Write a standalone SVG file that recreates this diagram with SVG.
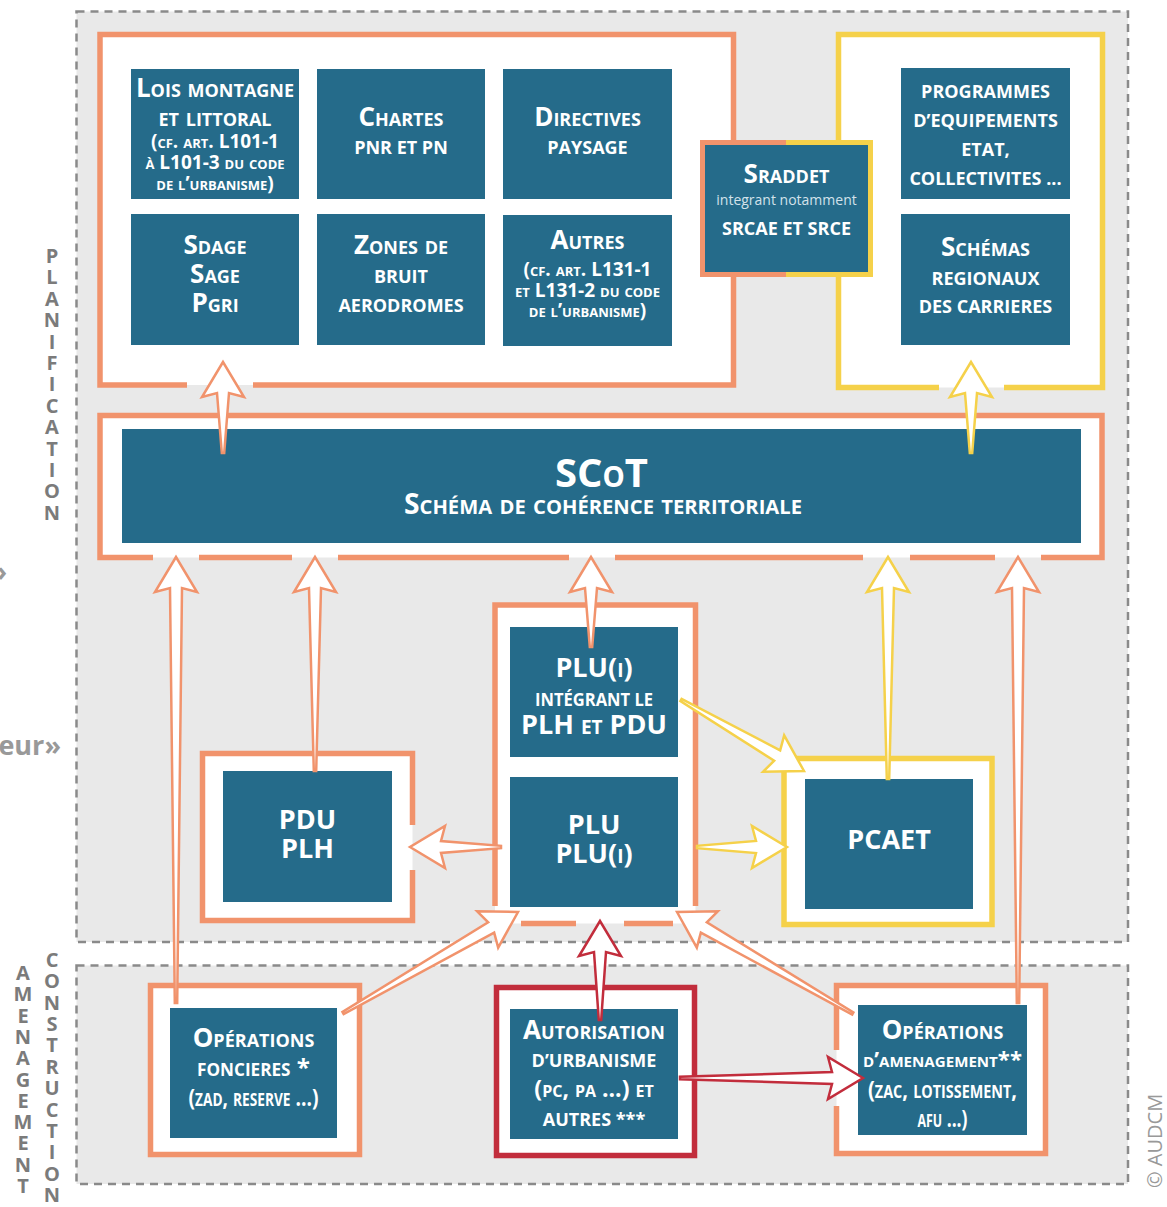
<svg xmlns="http://www.w3.org/2000/svg" width="1167" height="1207" viewBox="0 0 1167 1207">
<defs>
<style>
.zone{fill:#e9e9e9;stroke:#8a8a8a;stroke-width:2.5;stroke-dasharray:8 6}
.fo{fill:#fff;stroke:#f1936c;stroke-width:5.5}
.fy{fill:#fff;stroke:#f5d14a;stroke-width:5.5}
.fr{fill:#fff;stroke:#c22d3c;stroke-width:5.5}
.lo{fill:none;stroke:#f1936c;stroke-width:5.5}
.ly{fill:none;stroke:#f5d14a;stroke-width:5.5}
.box{fill:#256b8a}
.t{font-family:"Open Sans","Noto Sans","DejaVu Sans",sans-serif;font-weight:700;fill:#fff;text-anchor:middle}
.sc{font-variant:small-caps}
.big{font-size:26px}
.sm{font-size:18px}
.ref{font-size:19px}
.lbl{font-family:"Open Sans","DejaVu Sans",sans-serif;font-weight:700;font-size:20px;fill:#7b7b7b;text-anchor:middle}
.ao{fill:#fff;stroke:#f1936c;stroke-width:2.5;stroke-linejoin:miter}
.ay{fill:#fff;stroke:#f5d14a;stroke-width:2.5;stroke-linejoin:miter}
.ar{fill:#fff;stroke:#c22d3c;stroke-width:2.5;stroke-linejoin:miter}
</style>
</defs>
<rect width="1167" height="1207" fill="#fff"/>
<g id="zones">
<rect class="zone" x="76.5" y="11.5" width="1051.5" height="930.5"/>
<rect class="zone" x="76.5" y="965.5" width="1051.5" height="218.5"/>
</g>
<g id="side-labels">
<text class="lbl" x="52 52 52 52 52 52 52 52 52 52 52 52 52" y="263 284.4 305.8 327.2 348.6 370 391.4 412.8 434.2 455.6 477 498.4 519.8">PLANIFICATION</text>
<text class="lbl" x="23 23 23 23 23 23 23 23 23 23 23" y="980 1001.3 1022.6 1043.9 1065.2 1086.5 1107.8 1129.1 1150.4 1171.7 1193">AMENAGEMENT</text>
<text class="lbl" x="52 52 52 52 52 52 52 52 52 52 52 52" y="967 988.4 1009.7 1031.1 1052.4 1073.8 1095.2 1116.5 1137.9 1159.2 1180.6 1202">CONSTRUCTION</text>
<text x="7" y="581" font-family="Open Sans, sans-serif" font-weight="700" font-size="27" fill="#999" text-anchor="end">»</text>
<text x="61" y="755" font-family="Open Sans, sans-serif" font-weight="700" font-size="27" fill="#999" text-anchor="end">eur»</text>
<text x="1162" y="1188" transform="rotate(-90 1162 1188)" font-family="Open Sans, sans-serif" font-size="20" fill="#999">© AUDCM</text>
</g>

<g id="group-top-left">
<path d="M100 385 V34.5 H733.5 V385 Z" fill="#fff"/>
<path class="lo" d="M187 385 H100 V34.5 H733.5 V385 H253"/>
</g>
<g id="group-top-right">
<path d="M838.5 387.5 V34.5 H1102.5 V387.5 Z" fill="#fff"/>
<path class="ly" d="M939 387.5 H838.5 V34.5 H1102.5 V387.5 H1004"/>
</g>

<g id="lois">
<rect class="box" x="131" y="69" width="168" height="130"/>
<text class="t sc big" x="215" y="97">Lois montagne</text>
<text class="t sc big" x="215" y="126">et littoral</text>
<text class="t sc ref" x="215" y="148">(cf. art. L101-1</text>
<text class="t sc ref" x="215" y="169">à L101-3 du code</text>
<text class="t sc ref" x="215" y="190">de l’urbanisme)</text>
</g>
<g id="chartes">
<rect class="box" x="317" y="69" width="168" height="130"/>
<text class="t sc big" x="401" y="126">Chartes</text>
<text class="t sm" x="401" y="154">PNR ET PN</text>
</g>
<g id="directives">
<rect class="box" x="503" y="69" width="169" height="130"/>
<text class="t sc big" x="587.5" y="126">Directives</text>
<text class="t sm" x="587.5" y="154">PAYSAGE</text>
</g>
<g id="sdage">
<rect class="box" x="131" y="214" width="168" height="131"/>
<text class="t sc big" x="215" y="254">Sdage</text>
<text class="t sc big" x="215" y="283">Sage</text>
<text class="t sc big" x="215" y="312">Pgri</text>
</g>
<g id="zones-bruit">
<rect class="box" x="317" y="214" width="168" height="131"/>
<text class="t sc big" x="401" y="254">Zones de</text>
<text class="t sm" x="401" y="283">BRUIT</text>
<text class="t sm" x="401" y="312">AERODROMES</text>
</g>
<g id="autres">
<rect class="box" x="503" y="215" width="169" height="131"/>
<text class="t sc big" x="587.5" y="249">Autres</text>
<text class="t sc ref" x="587.5" y="276">(cf. art. L131-1</text>
<text class="t sc ref" x="587.5" y="297">et L131-2 du code</text>
<text class="t sc ref" x="587.5" y="317">de l’urbanisme)</text>
</g>
<g id="sraddet">
<rect x="700" y="140" width="87" height="137" fill="#f1936c"/>
<rect x="786" y="140" width="87" height="137" fill="#f5d14a"/>
<rect class="box" x="705" y="145" width="163" height="127"/>
<text class="t sc big" x="786.5" y="183">Sraddet</text>
<text x="786.5" y="205" font-family="Open Sans, sans-serif" font-size="14" fill="#d3e2ea" text-anchor="middle">integrant notamment</text>
<text class="t sm" x="786.5" y="235">SRCAE ET SRCE</text>
</g>
<g id="programmes">
<rect class="box" x="901" y="68" width="169" height="131"/>
<text class="t sm" x="985.5" y="98">PROGRAMMES</text>
<text class="t sm" x="985.5" y="127">D’EQUIPEMENTS</text>
<text class="t sm" x="985.5" y="156">ETAT,</text>
<text class="t sm" x="985.5" y="185">COLLECTIVITES ...</text>
</g>
<g id="schemas">
<rect class="box" x="901" y="214" width="169" height="131"/>
<text class="t sc big" x="985.5" y="256">Schémas</text>
<text class="t sm" x="985.5" y="285">REGIONAUX</text>
<text class="t sm" x="985.5" y="313">DES CARRIERES</text>
</g>

<g id="scot">
<rect x="100" y="415.5" width="1002" height="142" fill="#fff"/>
<path class="lo" d="M153 557.5 H100 V415.5 H1102 V557.5 H1041 M199 557.5 H292 M338 557.5 H569 M615 557.5 H863 M910 557.5 H995"/>
<rect class="box" x="122" y="429" width="959" height="114"/>
<text class="t sc" x="601.5" y="487" font-size="40">SCoT</text>
<text class="t sc" x="603" y="514" font-size="28" textLength="398" lengthAdjust="spacingAndGlyphs">Schéma de cohérence territoriale</text>
</g>

<g id="pdu">
<rect x="202.5" y="753.5" width="210" height="167" fill="#fff"/>
<path class="lo" d="M412.5 825 V753.5 H202.5 V920.5 H412.5 V870"/>
<rect class="box" x="223" y="771" width="169" height="131"/>
<text class="t" x="307.5" y="829" font-size="27">PDU</text>
<text class="t" x="307.5" y="858" font-size="27">PLH</text>
</g>

<g id="plu">
<rect x="495" y="605" width="200.5" height="318.5" fill="#fff"/>
<path class="lo" d="M495 906 V605 H695.5 V906 M521 923.5 H576 M624 923.5 H673"/>
<rect class="box" x="510" y="627" width="168" height="130"/>
<text class="t sc" x="594" y="677" font-size="27">PLU(i)</text>
<text class="t" x="594" y="706" font-size="17" textLength="118" lengthAdjust="spacingAndGlyphs">INTÉGRANT LE</text>
<text class="t sc" x="594" y="734" font-size="27">PLH et PDU</text>
<rect class="box" x="510" y="777" width="168" height="130"/>
<text class="t" x="594" y="834" font-size="27">PLU</text>
<text class="t sc" x="594" y="863" font-size="27">PLU(i)</text>
</g>

<g id="pcaet">
<rect class="fy" x="784" y="758.5" width="208" height="166"/>
<rect class="box" x="805" y="779" width="168" height="130"/>
<text class="t" x="889" y="849" font-size="27">PCAET</text>
</g>

<g id="operations-foncieres">
<rect class="fo" x="150.5" y="985.5" width="209" height="169"/>
<rect class="box" x="170" y="1008" width="167" height="130"/>
<text class="t sc big" x="253.5" y="1047">Opérations</text>
<text class="t sc" x="253.5" y="1076" font-size="24" textLength="113" lengthAdjust="spacingAndGlyphs">foncieres *</text>
<text class="t sc" x="253.5" y="1106" font-size="24" textLength="130" lengthAdjust="spacingAndGlyphs">(zad, reserve ...)</text>
</g>

<g id="autorisation">
<rect class="fr" x="496.5" y="987.5" width="198" height="168"/>
<rect class="box" x="510" y="1009" width="168" height="130"/>
<text class="t sc big" x="594" y="1039">Autorisation</text>
<text class="t sm" x="594" y="1067">D’URBANISME</text>
<text class="t sc" x="594" y="1097" font-size="23">(pc, pa ...) et</text>
<text class="t sm" x="594" y="1126">AUTRES ***</text>
</g>

<g id="operations-amenagement">
<rect x="836.5" y="985.5" width="209" height="168" fill="#fff"/>
<path class="lo" d="M836.5 1050 V985.5 H1045.5 V1153.5 H836.5 V1106"/>
<rect class="box" x="858" y="1005" width="169" height="130"/>
<text class="t sc big" x="942.5" y="1039">Opérations</text>
<text class="t sc" x="942.5" y="1067" font-size="22" textLength="159" lengthAdjust="spacingAndGlyphs">d’amenagement**</text>
<text class="t sc" x="942.5" y="1098" font-size="24" textLength="149" lengthAdjust="spacingAndGlyphs">(zac, lotissement,</text>
<text class="t sc" x="942.5" y="1127" font-size="24" textLength="50" lengthAdjust="spacingAndGlyphs">afu ...)</text>
</g>

<g id="connectors">
<path class="ao" transform="translate(223 362) rotate(-90)" d="M0 0 L-35 -21 L-31 -6 L-91 -1.2 L-91 1.2 L-31 6 L-35 21 Z"/>
<path class="ay" transform="translate(971 362) rotate(-90)" d="M0 0 L-35 -21 L-31 -6 L-91 -1.2 L-91 1.2 L-31 6 L-35 21 Z"/>
<path class="ao" transform="translate(176 557) rotate(-90)" d="M0 0 L-35 -21 L-31 -6 L-446 -1.2 L-446 1.2 L-31 6 L-35 21 Z"/>
<path class="ao" transform="translate(315 557) rotate(-90)" d="M0 0 L-35 -21 L-31 -6 L-214 -1.2 L-214 1.2 L-31 6 L-35 21 Z"/>
<path class="ao" transform="translate(591 557) rotate(-90)" d="M0 0 L-35 -21 L-31 -6 L-90 -1.2 L-90 1.2 L-31 6 L-35 21 Z"/>
<path class="ay" transform="translate(888 557) rotate(-90)" d="M0 0 L-35 -21 L-31 -6 L-222 -1.2 L-222 1.2 L-31 6 L-35 21 Z"/>
<path class="ao" transform="translate(1018 557) rotate(-90)" d="M0 0 L-35 -21 L-31 -6 L-446 -1.2 L-446 1.2 L-31 6 L-35 21 Z"/>
<path class="ay" transform="translate(804 771) rotate(30)" d="M0 0 L-35 -21 L-31 -6 L-142 -1.2 L-142 1.2 L-31 6 L-35 21 Z"/>
<path class="ao" transform="translate(410 847) rotate(180)" d="M0 0 L-35 -21 L-31 -6 L-91 -1.2 L-91 1.2 L-31 6 L-35 21 Z"/>
<path class="ay" transform="translate(787 847)" d="M0 0 L-35 -21 L-31 -6 L-90 -1.2 L-90 1.2 L-31 6 L-35 21 Z"/>
<path class="ao" transform="translate(518 912) rotate(-30)" d="M0 0 L-35 -21 L-31 -6 L-202 -1.2 L-202 1.2 L-31 6 L-35 21 Z"/>
<path class="ao" transform="translate(677 912) rotate(210)" d="M0 0 L-35 -21 L-31 -6 L-203 -1.2 L-203 1.2 L-31 6 L-35 21 Z"/>
<path class="ar" transform="translate(600 921) rotate(-90)" d="M0 0 L-35 -21 L-31 -6 L-99 -1.2 L-99 1.2 L-31 6 L-35 21 Z"/>
<path class="ar" transform="translate(863 1078)" d="M0 0 L-35 -21 L-31 -6 L-183 -1.2 L-183 1.2 L-31 6 L-35 21 Z"/>
</g>
</svg>
